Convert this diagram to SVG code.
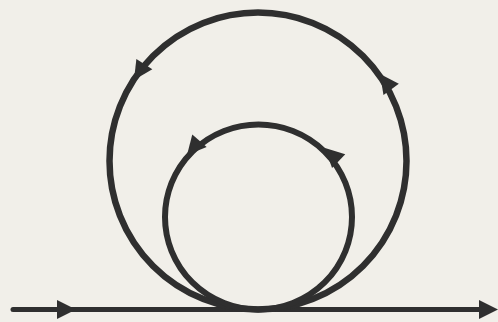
<svg xmlns="http://www.w3.org/2000/svg" xmlns:xlink="http://www.w3.org/1999/xlink" width="498" height="322" viewBox="0 0 498 322">
  <defs>
    <style>
      .trk { fill: none; stroke: #2f2f2f; stroke-linecap: round; }
      .ah { fill: #2f2f2f; }
    </style>
    <path id="ah" class="ah" d="M0,0 L-19,-9.5 L-19,9.5 Z"/>
  </defs>
  <rect width="498" height="322" fill="#f1efe9"/>
  <g id="line">
    <line class="trk" x1="13" y1="309.5" x2="485" y2="309.5" stroke-width="5"/>
    <use xlink:href="#ah" transform="translate(76,309.5)"/>
    <use xlink:href="#ah" transform="translate(498,309.5)"/>
  </g>
  <g id="big-loop">
    <circle class="trk" cx="258" cy="161" r="148.5" stroke-width="6.5"/>
    <use xlink:href="#ah" transform="translate(134,80) rotate(123)"/>
    <use xlink:href="#ah" transform="translate(380,74) rotate(234)"/>
  </g>
  <g id="small-loop">
    <ellipse class="trk" cx="258.5" cy="217" rx="93.5" ry="92.5" stroke-width="6"/>
    <use xlink:href="#ah" transform="translate(187,155) rotate(131)"/>
    <use xlink:href="#ah" transform="translate(325,148) rotate(224)"/>
  </g>
</svg>
